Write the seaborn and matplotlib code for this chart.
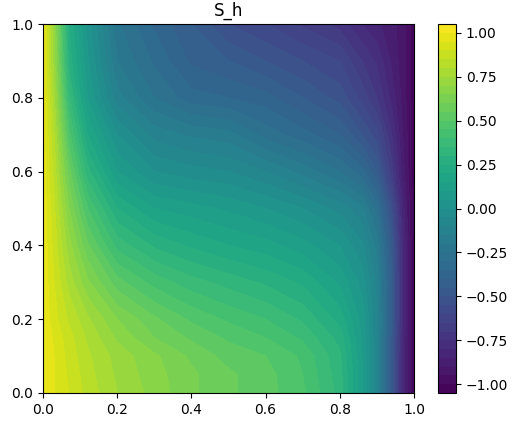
import numpy as np
import seaborn as sns
import matplotlib
matplotlib.use("Agg")
import matplotlib.pyplot as plt

# values
x_pos = [0, .03, .07, .12, .2, .3, .4, .5, .6, .7, .8, .86, .9, .94, .97, 1]
y_pos = [0, .05, .1, .15, .2, .3, .4, .5, .6, .7, .8, .9, 1]

row_00 = [1.0, .95, .90, .83, .75, .68, .61, .56, .52, .46, .33, .11, -.10, -.48, -.82, -1.02]
row_05 = [1.0, .95, .89, .82, .74, .67, .61, .56, .52, .45, .32, .11, -.10, -.48, -.82, -1.02]
row_10 = [1.0, .95, .88, .81, .73, .66, .59, .53, .50, .44, .31, .10, -.10, -.48, -.82, -1.02]
row_15 = [1.0, .94, .87, .79, .69, .60, .54, .49, .45, .39, .28, .09, -.10, -.47, -.81, -1.02]
row_20 = [.99, .92, .84, .76, .65, .56, .49, .44, .40, .34, .23, .08, -.10, -.45, -.80, -1.03]
row_30 = [.99, .90, .78, .66, .52, .43, .37, .33, .29, .24, .14, .03, -.12, -.45, -.80, -1.03]
row_40 = [.99, .88, .72, .56, .38, .29, .24, .20, .17, .12, .05, -.04, -.17, -.47, -.80, -1.03]
row_50 = [.99, .86, .65, .45, .25, .15, .12, .09, .05, 0, -.07, -.14, -.28, -.55, -.83, -1.03]
row_60 = [.98, .83, .57, .32, .10, 0, -.03, -.05, -.10, -.17, -.25, -.33, -.45, -.68, -.88, -1.03]
row_70 = [.98, .80, .47, .20, 0, -.12, -.16, -.18, -.27, -.33, -.40, -.50, -.58, -.75, -.90, -1.03]
row_80 = [.98, .76, .36, .10, -.13, -.25, -.33, -.35, -.38, -.45, -.52, -.62, -.70, -.82, -.92, -1.03]
row_90 = [.98, .72, .28, .06, -.20, -.31, -.41, -.45, -.50, -.55, -.60, -.70, -.76, -.86, -.93, -1.03]
row_100 = [.98, .70, .25, .03, -.24, -.36, -.45, -.55, -.60, -.66, -.72, -.80, -.84, -.88, -.93, -1.03]

rows = [row_00, row_05, row_10, row_15, row_20, row_30, row_40, row_50, row_60, row_70, row_80, row_90, row_100]
levels = np.linspace(-1.05, 1.05, 43)

sns.set_style("ticks", {"axes.edgecolor": "black", "text.color": "black", "xtick.color": "black",
                        "ytick.color": "black", "font.family": "DejaVu Sans"})
cmap = sns.color_palette("viridis", as_cmap=True)

fig = plt.figure(figsize=(5.12, 4.21), dpi=100)
ax = fig.add_axes([43/512, 28/421, 371/512, 369/421])
cf = ax.contourf(x_pos, y_pos, np.array(rows), levels=levels, cmap=cmap)
ax.set_title("S_h", fontsize=12)
ax.set_xlim(0, 1)
ax.set_ylim(0, 1)

cax = fig.add_axes([438/512, 28/421, 18/512, 369/421])
cbar = fig.colorbar(cf, cax=cax)
cbar.set_ticks([-1, -.75, -.5, -.25, 0, .25, .5, .75, 1])

fig.savefig("out.png", dpi=100)
